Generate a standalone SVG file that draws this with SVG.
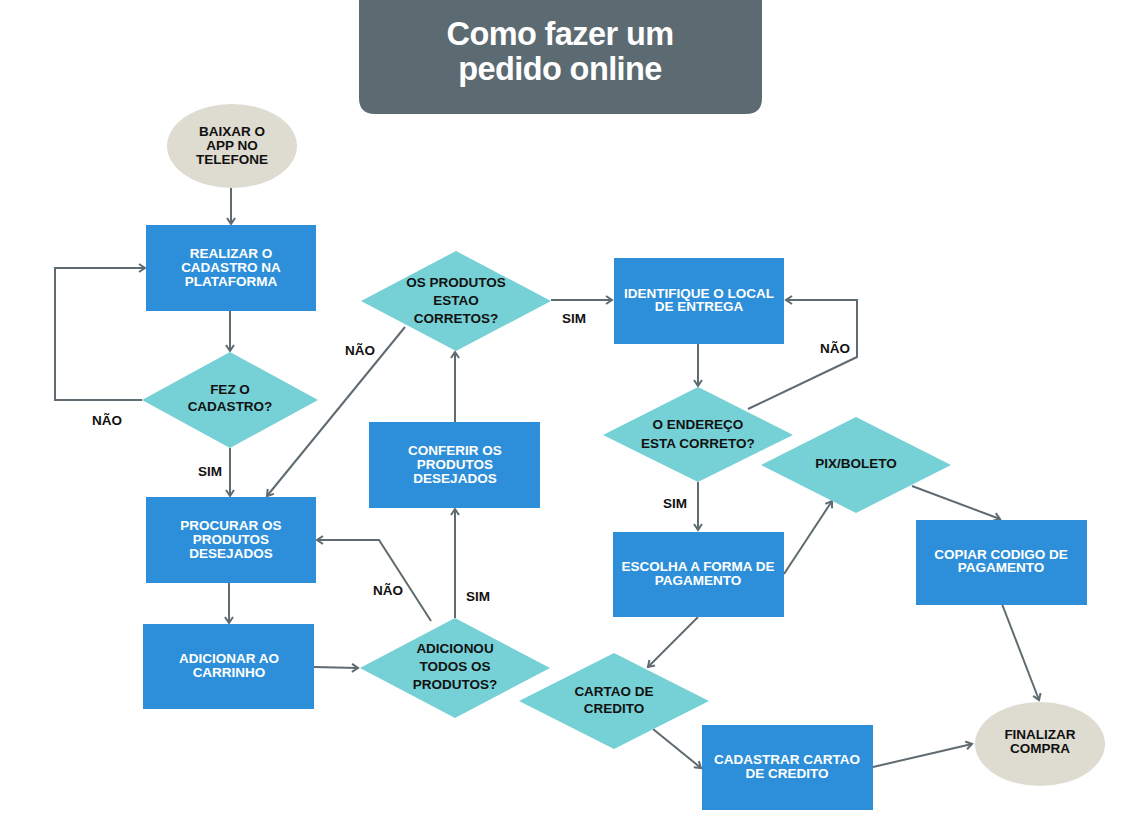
<svg xmlns="http://www.w3.org/2000/svg" width="1124" height="826" viewBox="0 0 1124 826">
<style>
.rect{fill:#2d8fd9}
.dia{fill:#76d1d6}
.ell{fill:#dedcd0}
.tw{font-family:"Liberation Sans",Arial,sans-serif;font-weight:bold;font-size:13.5px;fill:#ffffff;text-anchor:middle}
.tb{font-family:"Liberation Sans",Arial,sans-serif;font-weight:bold;font-size:13.5px;fill:#111111;text-anchor:middle}
.lbl{font-family:"Liberation Sans",Arial,sans-serif;font-weight:bold;font-size:13.5px;fill:#111111;text-anchor:middle}
.title{font-family:"Liberation Sans",Arial,sans-serif;font-weight:bold;font-size:32.5px;fill:#ffffff;text-anchor:middle;letter-spacing:-0.6px}
.conn{fill:none;stroke:#5f6b70;stroke-width:2;marker-end:url(#arr)}
</style>
<defs>
<marker id="arr" markerUnits="userSpaceOnUse" markerWidth="10" markerHeight="10" refX="7" refY="5" orient="auto">
<path d="M1,1 L7,5 L1,9" fill="none" stroke="#5f6b70" stroke-width="2"/>
</marker>
</defs>
<rect width="1124" height="826" fill="#ffffff"/>

<g id="title">
<path d="M359,-5 H762 V98 Q762,114 746,114 H375 Q359,114 359,98 Z" fill="#5c6a71"/>
<text class="title" x="560" y="45">Como fazer um</text>
<text class="title" x="560" y="80">pedido online</text>
</g>

<g id="connectors">
<path class="conn" d="M231,188 V224"/>
<path class="conn" d="M230,311 V351"/>
<path class="conn" d="M142,400 H55 V268 H145"/>
<path class="conn" d="M230,448 V496"/>
<path class="conn" d="M229,583 V623"/>
<path class="conn" d="M314,667 L358,668"/>
<path class="conn" d="M431,621 L379,540 H317"/>
<path class="conn" d="M455,618 V509"/>
<path class="conn" d="M455,422 V352"/>
<path class="conn" d="M405,327 L267,496"/>
<path class="conn" d="M551,300 L612,300"/>
<path class="conn" d="M698,344 V386"/>
<path class="conn" d="M748,409 L857,357 V300 H786"/>
<path class="conn" d="M698,482 V530"/>
<path class="conn" d="M784,574 L832,501"/>
<path class="conn" d="M912,486 L1000,519"/>
<path class="conn" d="M1002,604 L1039,700"/>
<path class="conn" d="M698,617 L648,667"/>
<path class="conn" d="M653,729 L701,768"/>
<path class="conn" d="M873,767 L972,744"/>
</g>

<g id="labels">
<text class="lbl" x="107" y="425">NÃO</text>
<text class="lbl" x="210" y="476">SIM</text>
<text class="lbl" x="360" y="355">NÃO</text>
<text class="lbl" x="574" y="323">SIM</text>
<text class="lbl" x="388" y="595">NÃO</text>
<text class="lbl" x="478" y="601">SIM</text>
<text class="lbl" x="835" y="353">NÃO</text>
<text class="lbl" x="675" y="508">SIM</text>
</g>

<g id="n-baixar">
<ellipse class="ell" cx="232" cy="146" rx="65" ry="42"/>
<text class="tb" x="232" y="136">BAIXAR O</text>
<text class="tb" x="232" y="150">APP NO</text>
<text class="tb" x="232" y="164">TELEFONE</text>
</g>

<g id="n-realizar">
<rect class="rect" x="146" y="225" width="170" height="86"/>
<text class="tw" x="231" y="258">REALIZAR O</text>
<text class="tw" x="231" y="272">CADASTRO NA</text>
<text class="tw" x="231" y="286">PLATAFORMA</text>
</g>

<g id="n-fez">
<polygon class="dia" points="230,352 318,400 230,448 142,400"/>
<text class="tb" x="230" y="394">FEZ O</text>
<text class="tb" x="230" y="411">CADASTRO?</text>
</g>

<g id="n-procurar">
<rect class="rect" x="146" y="497" width="170" height="86"/>
<text class="tw" x="231" y="530">PROCURAR OS</text>
<text class="tw" x="231" y="544">PRODUTOS</text>
<text class="tw" x="231" y="558">DESEJADOS</text>
</g>

<g id="n-adicionar">
<rect class="rect" x="143" y="624" width="171" height="85"/>
<text class="tw" x="229" y="663">ADICIONAR AO</text>
<text class="tw" x="229" y="677">CARRINHO</text>
</g>

<g id="n-adicionou">
<polygon class="dia" points="455,618 550,668 455,718 360,668"/>
<text class="tb" x="455" y="653">ADICIONOU</text>
<text class="tb" x="455" y="671">TODOS OS</text>
<text class="tb" x="455" y="689">PRODUTOS?</text>
</g>

<g id="n-conferir">
<rect class="rect" x="369" y="422" width="171" height="86"/>
<text class="tw" x="455" y="455">CONFERIR OS</text>
<text class="tw" x="455" y="469">PRODUTOS</text>
<text class="tw" x="455" y="483">DESEJADOS</text>
</g>

<g id="n-corretos">
<polygon class="dia" points="456,251 551,301 456,351 361,301"/>
<text class="tb" x="456" y="287">OS PRODUTOS</text>
<text class="tb" x="456" y="305">ESTAO</text>
<text class="tb" x="456" y="323">CORRETOS?</text>
</g>

<g id="n-identifique">
<rect class="rect" x="614" y="258" width="170" height="86"/>
<text class="tw" x="699" y="298">IDENTIFIQUE O LOCAL</text>
<text class="tw" x="699" y="311">DE ENTREGA</text>
</g>

<g id="n-endereco">
<polygon class="dia" points="698,387 793,435 698,482 603,435"/>
<text class="tb" x="698" y="429">O ENDEREÇO</text>
<text class="tb" x="698" y="448">ESTA CORRETO?</text>
</g>

<g id="n-escolha">
<rect class="rect" x="613" y="532" width="171" height="85"/>
<text class="tw" x="698" y="571">ESCOLHA A FORMA DE</text>
<text class="tw" x="698" y="585">PAGAMENTO</text>
</g>

<g id="n-pix">
<polygon class="dia" points="856,417 951,465 856,513 761,465"/>
<text class="tb" x="856" y="468">PIX/BOLETO</text>
</g>

<g id="n-copiar">
<rect class="rect" x="916" y="520" width="171" height="85"/>
<text class="tw" x="1001" y="559">COPIAR CODIGO DE</text>
<text class="tw" x="1001" y="572">PAGAMENTO</text>
</g>

<g id="n-cartao">
<polygon class="dia" points="614,653 709,701 614,749 519,701"/>
<text class="tb" x="614" y="696">CARTAO DE</text>
<text class="tb" x="614" y="713">CREDITO</text>
</g>

<g id="n-cadastrar">
<rect class="rect" x="702" y="725" width="171" height="85"/>
<text class="tw" x="787" y="764">CADASTRAR CARTAO</text>
<text class="tw" x="787" y="778">DE CREDITO</text>
</g>

<g id="n-finalizar">
<ellipse class="ell" cx="1040" cy="744" rx="65" ry="42"/>
<text class="tb" x="1040" y="739">FINALIZAR</text>
<text class="tb" x="1040" y="753">COMPRA</text>
</g>
</svg>
